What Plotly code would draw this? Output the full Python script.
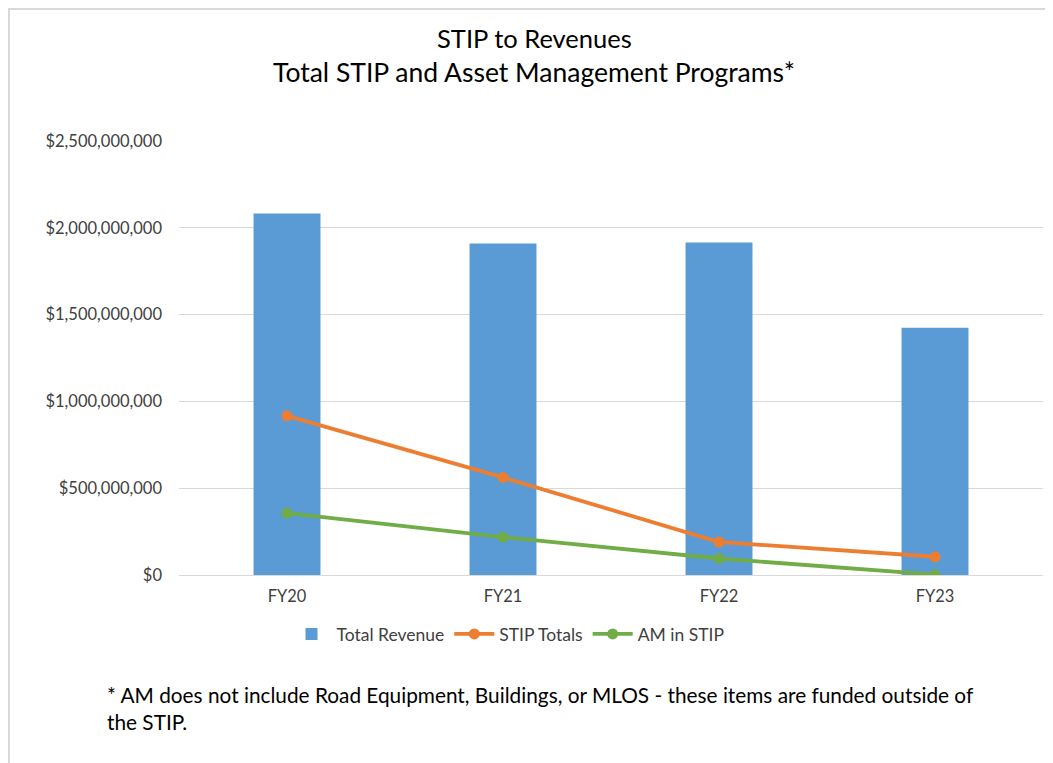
import plotly.graph_objects as go

categories = ["FY20", "FY21", "FY22", "FY23"]
total_revenue = [2082000000, 1909000000, 1915000000, 1424000000]
stip_totals = [917000000, 562000000, 190000000, 105000000]
am_in_stip = [356000000, 218000000, 95000000, 2000000]
y_ticks = [0, 500000000, 1000000000, 1500000000, 2000000000, 2500000000]
y_tick_labels = ["$0", "$500,000,000", "$1,000,000,000", "$1,500,000,000",
                 "$2,000,000,000", "$2,500,000,000"]

OFF = 8  # page body margin
W, H = 1053 - OFF, 763 - OFF
L, T = 179 - OFF, 141 - OFF
R = W - (1043 - OFF)
B = H - (575 - OFF)
pw, ph = W - L - R, H - T - B

def px(x):
    return (x - OFF - L) / pw

def py(y):
    return (H - B - (y - OFF)) / ph

FONT = "Lato"

fig = go.Figure()
fig.add_trace(go.Bar(x=categories, y=total_revenue, name="Total Revenue",
                     marker=dict(color="#5B9BD5", line=dict(width=0)), width=0.31))
fig.add_trace(go.Scatter(x=categories, y=stip_totals, name="STIP Totals", mode="lines+markers",
                         line=dict(color="#ED7D31", width=3.8),
                         marker=dict(color="#ED7D31", size=11)))
fig.add_trace(go.Scatter(x=categories, y=am_in_stip, name="AM in STIP", mode="lines+markers",
                         line=dict(color="#70AD47", width=3.8),
                         marker=dict(color="#70AD47", size=11)))

fig.update_layout(
    width=W, height=H, autosize=False,
    margin=dict(l=L, r=R, t=T, b=B, pad=0),
    paper_bgcolor="white", plot_bgcolor="white",
    font=dict(family=FONT, color="#404040", size=16),
    showlegend=True,
    legend=dict(orientation="h", x=px(508), xanchor="center", y=py(634), yanchor="middle",
                font=dict(size=17.5, color="#404040"), itemwidth=40, traceorder="normal",
                tracegroupgap=0),
    xaxis=dict(showgrid=False, showline=False, ticks="", tickfont=dict(size=16.4, color="#404040"),
               ticklabelstandoff=10),
    yaxis=dict(range=[0, 2500000000], tickvals=y_ticks, ticktext=y_tick_labels,
               showgrid=True, gridcolor="#D9D9D9", gridwidth=1.3, zeroline=True,
               zerolinecolor="#D9D9D9", zerolinewidth=1.3, showline=False,
               tickfont=dict(size=16.5, color="#404040"), ticklabelstandoff=16),
    bargap=0.69,
)

fig.add_annotation(text="STIP to Revenues", xref="paper", yref="paper",
                   x=px(534), y=py(38), xanchor="center", yanchor="middle", showarrow=False,
                   font=dict(family=FONT, size=25.5, color="#000000"))
fig.add_annotation(text="Total STIP and Asset Management Programs*", xref="paper", yref="paper",
                   x=px(534), y=py(72), xanchor="center", yanchor="middle", showarrow=False,
                   font=dict(family=FONT, size=26.5, color="#000000"))
fig.add_annotation(text="* AM does not include Road Equipment, Buildings, or MLOS - these items are funded outside of<br>the STIP.",
                   xref="paper", yref="paper", x=px(105), y=py(708), xanchor="left", yanchor="middle",
                   align="left", showarrow=False,
                   font=dict(family=FONT, size=20.8, color="#000000"))

fig.add_shape(type="line", xref="paper", yref="paper", x0=px(OFF), x1=px(1053), y0=py(OFF + 1), y1=py(OFF + 1),
              line=dict(color="#D9D9D9", width=2))
fig.add_shape(type="line", xref="paper", yref="paper", x0=px(OFF + 1), x1=px(OFF + 1), y0=py(OFF), y1=py(763),
              line=dict(color="#D9D9D9", width=2))

fig.write_html("out.html")
